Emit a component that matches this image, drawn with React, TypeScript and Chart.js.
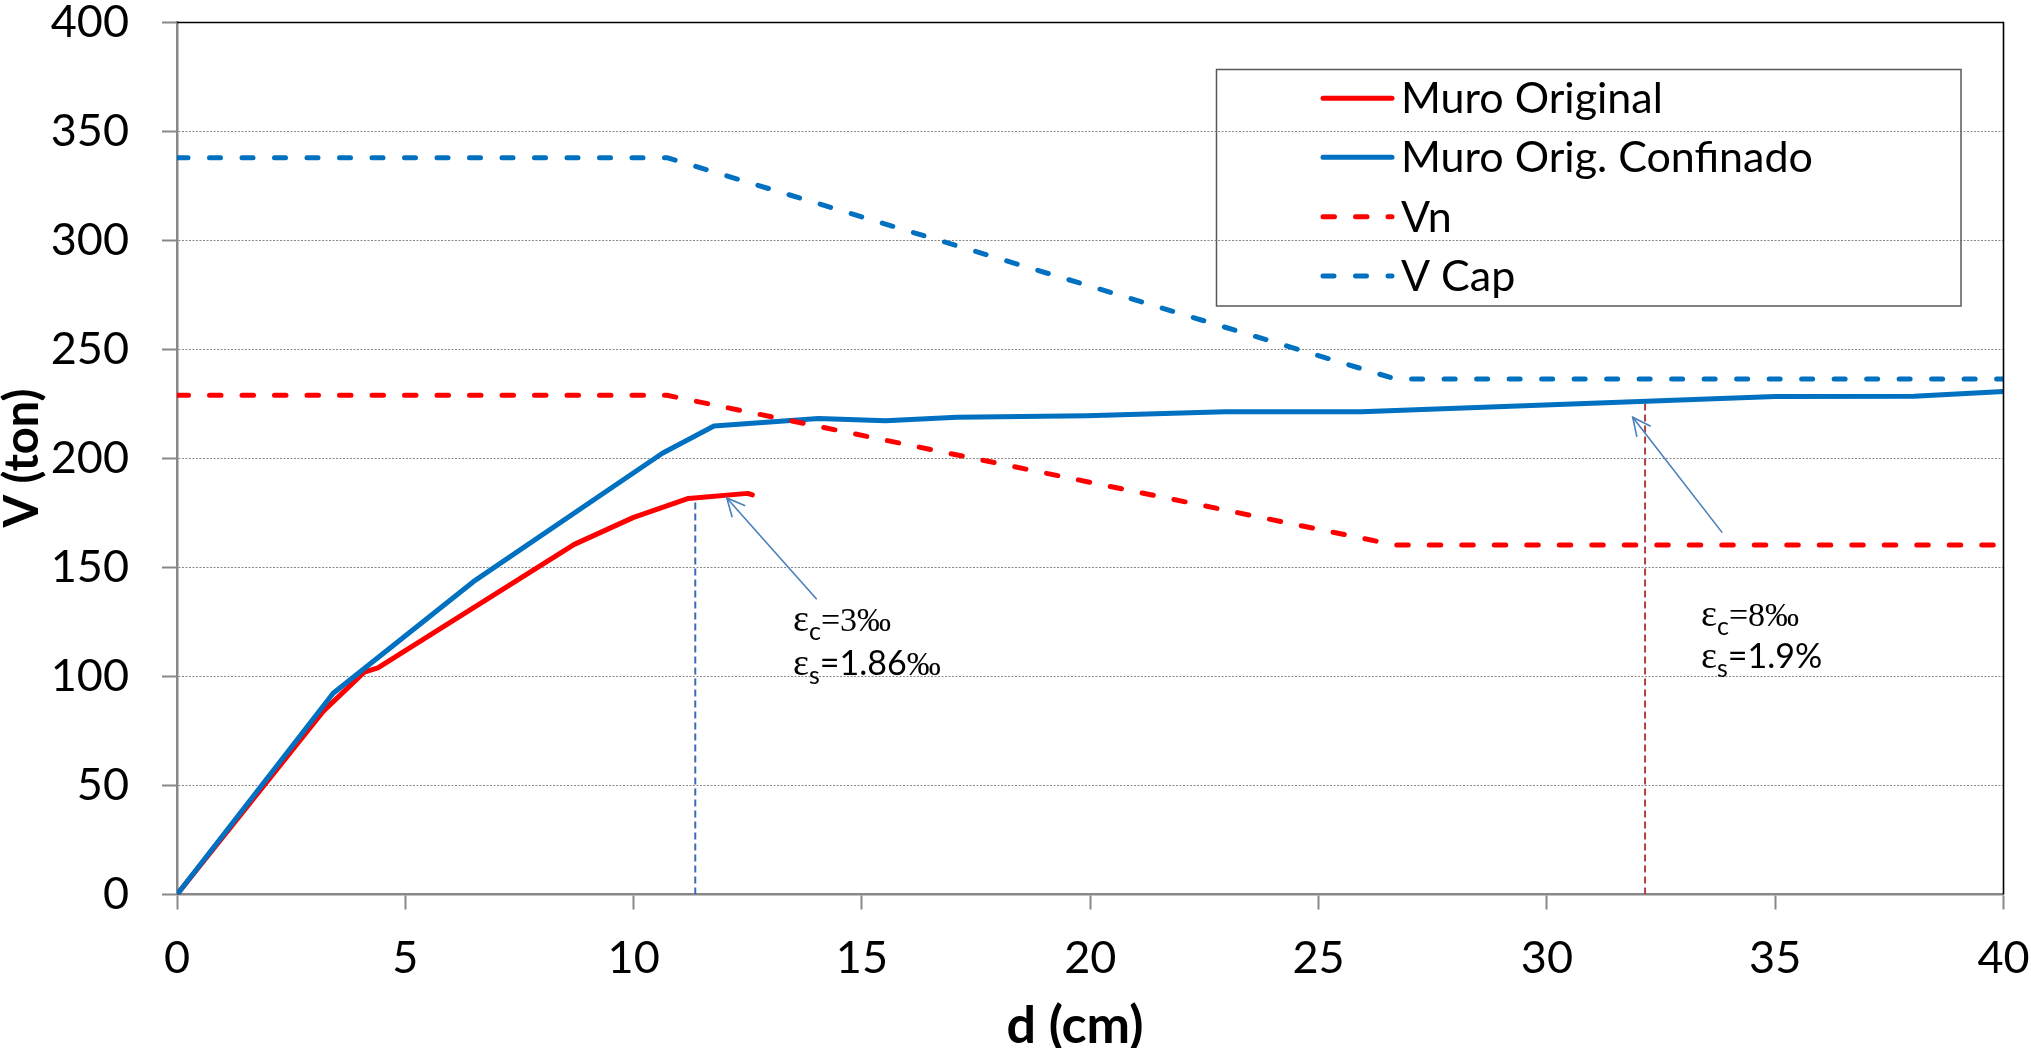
import React, { useEffect, useRef } from "react";
import { Chart, registerables } from "chart.js";

Chart.register(...registerables);

// ---- data ----
const muroOrigD = [0, 3.2, 4.1, 4.4, 8.7, 10.0, 11.2, 12.5, 12.6];
const muroOrigV = [0, 84, 102, 104, 160.6, 173, 181.7, 184, 183.3];

const confD = [0, 3.42, 6.49, 10.63, 11.76, 14.05, 15.52, 17.08, 19.92, 22.95, 25.94, 35.0, 38.04, 40];
const confV = [0, 92.3, 143.5, 202.4, 214.9, 218.4, 217.3, 218.9, 219.6, 221.5, 221.5, 228.4, 228.5, 230.7];

const vnD = [0, 10.73, 26.68, 40];
const vnV = [229, 229, 160.3, 160.3];

const vcapD = [0, 10.73, 26.68, 40];
const vcapV = [338, 338, 236.5, 236.5];

const seriesLabels = ["Muro Original", "Muro Orig. Confinado", "Vn", "V Cap"];

// marker (vertical drop lines) and arrows, in data units
const markLeftD = [11.35, 11.35];
const markLeftV = [0, 182];
const markRightD = [32.15, 32.15];
const markRightV = [0, 226];
const arrowLeft = { fromD: 14.01, fromV: 135.4, toD: 12.04, toV: 181.9 };
const arrowRight = { fromD: 33.84, fromV: 166, toD: 31.88, toV: 218.9 };

const xMin = 0, xMax = 40, xStep = 5;
const yMin = 0, yMax = 400, yStep = 50;

const xTitle = "d (cm)";
const yTitle = "V (ton)";

const zip = (xs: number[], ys: number[]) => xs.map((x, i) => ({ x, y: ys[i] }));

const SERIF = '"Liberation Serif", "DejaVu Serif", serif';
const SANS = 'Lato, "Liberation Sans", sans-serif';

type Seg = { t: string; font: string; sub?: boolean };

function drawSegs(ctx: CanvasRenderingContext2D, segs: Seg[], x: number, y: number) {
  let cx = x;
  for (const s of segs) {
    ctx.font = s.font;
    ctx.fillText(s.t, cx, y + (s.sub ? 9 : 0));
    cx += ctx.measureText(s.t).width;
  }
}

const overlayPlugin = {
  id: "overlay",
  afterDraw(chart: any) {
    const ctx: CanvasRenderingContext2D = chart.ctx;
    const { left, right, top, bottom } = chart.chartArea;
    const xs = chart.scales.x;
    const ys = chart.scales.y;
    ctx.save();

    // top and right frame
    ctx.strokeStyle = "#000000";
    ctx.lineWidth = 1.6;
    ctx.beginPath();
    ctx.moveTo(left, top);
    ctx.lineTo(right, top);
    ctx.lineTo(right, bottom);
    ctx.stroke();

    // arrows
    const drawArrow = (a: any) => {
      const x1 = xs.getPixelForValue(a.fromD), y1 = ys.getPixelForValue(a.fromV);
      const x2 = xs.getPixelForValue(a.toD), y2 = ys.getPixelForValue(a.toV);
      ctx.strokeStyle = "#4A7EBB";
      ctx.lineWidth = 1.6;
      ctx.setLineDash([]);
      ctx.beginPath();
      ctx.moveTo(x1, y1);
      ctx.lineTo(x2, y2);
      ctx.stroke();
      const ang = Math.atan2(y2 - y1, x2 - x1);
      const L = 20, w = 0.45;
      ctx.beginPath();
      ctx.moveTo(x2 - L * Math.cos(ang - w), y2 - L * Math.sin(ang - w));
      ctx.lineTo(x2, y2);
      ctx.lineTo(x2 - L * Math.cos(ang + w), y2 - L * Math.sin(ang + w));
      ctx.stroke();
    };
    drawArrow(arrowLeft);
    drawArrow(arrowRight);

    // annotation texts
    ctx.fillStyle = "#000000";
    ctx.textBaseline = "alphabetic";
    ctx.textAlign = "left";
    const eps = `38px ${SERIF}`;
    const sub = `25px ${SANS}`;
    const ser = `34px ${SERIF}`;
    const sans = `34px ${SANS}`;
    drawSegs(ctx, [{ t: "ε", font: eps }, { t: "c", font: sub, sub: true }, { t: "=3‰", font: ser }], 793, 631);
    drawSegs(ctx, [{ t: "ε", font: eps }, { t: "s", font: sub, sub: true }, { t: "=1.86", font: sans }, { t: "‰", font: ser }], 793, 675);
    drawSegs(ctx, [{ t: "ε", font: eps }, { t: "c", font: sub, sub: true }, { t: "=8‰", font: ser }], 1701, 626);
    drawSegs(ctx, [{ t: "ε", font: eps }, { t: "s", font: sub, sub: true }, { t: "=1.9%", font: sans }], 1701, 668);

    // legend box
    const lx = 1216.5, ly = 69.5, lw = 1961 - 1216.5, lh = 306 - 69.5;
    ctx.strokeStyle = "#595959";
    ctx.lineWidth = 1.5;
    ctx.strokeRect(lx, ly, lw, lh);
    const rows = [98.3, 157.3, 216.7, 276];
    chart.data.datasets.slice(0, 4).forEach((ds: any, i: number) => {
      const yy = rows[i];
      ctx.save();
      ctx.strokeStyle = ds.borderColor;
      ctx.lineWidth = ds.borderWidth;
      ctx.lineCap = "round";
      ctx.setLineDash(ds.borderDash || []);
      ctx.beginPath();
      ctx.moveTo(1323, yy);
      ctx.lineTo(1392, yy);
      ctx.stroke();
      ctx.restore();
      ctx.fillStyle = "#000000";
      ctx.font = `43px ${SANS}`;
      ctx.textBaseline = "alphabetic";
      ctx.fillText(ds.label, 1401, yy + 15);
    });

    // axis titles
    ctx.fillStyle = "#000000";
    ctx.textAlign = "center";
    ctx.textBaseline = "alphabetic";
    ctx.font = `bold 52px ${SANS}`;
    ctx.fillText(xTitle, 1075, 1043);
    ctx.font = `bold 47px ${SANS}`;
    ctx.save();
    ctx.translate(38, 458);
    ctx.rotate(-Math.PI / 2);
    ctx.fillText(yTitle, 0, 0);
    ctx.restore();

    ctx.restore();
  },
};

export default function App() {
  const ref = useRef<HTMLCanvasElement | null>(null);

  useEffect(() => {
    document.body.style.margin = "0";
    document.body.style.overflow = "hidden";
    const canvas = ref.current!;
    const solid = (label: string, d: number[], v: number[], color: string, order: number) => ({
      label,
      data: zip(d, v),
      borderColor: color,
      backgroundColor: color,
      borderWidth: 5,
      borderCapStyle: "round",
      borderJoinStyle: "round",
      showLine: true,
      pointRadius: 0,
      pointHoverRadius: 0,
      fill: false,
      tension: 0,
      order,
    });
    const chart = new Chart(canvas, {
      type: "scatter",
      data: {
        datasets: [
          solid(seriesLabels[0], muroOrigD, muroOrigV, "#FF0000", 4),
          solid(seriesLabels[1], confD, confV, "#0070C0", 3),
          { ...solid(seriesLabels[2], vnD, vnV, "#FF0000", 2), borderDash: [11.5, 21] },
          { ...solid(seriesLabels[3], vcapD, vcapV, "#0070C0", 1), borderDash: [11, 21.5] },
          {
            ...solid("markLeft", markLeftD, markLeftV, "#3B6DB3", 6),
            borderWidth: 2,
            borderCapStyle: "butt",
            borderDash: [7, 4],
          },
          {
            ...solid("markRight", markRightD, markRightV, "#B0403F", 5),
            borderWidth: 2,
            borderCapStyle: "butt",
            borderDash: [7, 4],
          },
        ] as any,
      },
      options: {
        animation: false,
        responsive: false,
        maintainAspectRatio: false,
        events: [],
        layout: { padding: { left: 0, right: 27.5, top: 22.5, bottom: 0 } },
        plugins: {
          legend: { display: false },
          tooltip: { enabled: false },
          title: { display: false },
        },
        scales: {
          x: {
            type: "linear",
            min: xMin,
            max: xMax,
            afterFit: (s: any) => {
              s.height = 153.5;
              s.paddingLeft = 0;
              s.paddingRight = 0;
              s.paddingTop = 0;
              s.paddingBottom = 0;
            },
            ticks: {
              stepSize: xStep,
              color: "#000000",
              font: { family: SANS, size: 45 },
              padding: 22,
              maxRotation: 0,
            },
            grid: {
              display: true,
              drawOnChartArea: false,
              drawTicks: true,
              tickLength: 15,
              tickWidth: 2,
              tickColor: "#888888",
            },
            border: { display: true, color: "#888888", width: 2.5 },
          },
          y: {
            type: "linear",
            min: yMin,
            max: yMax,
            afterFit: (s: any) => {
              s.width = 177;
              s.paddingLeft = 0;
              s.paddingRight = 0;
              s.paddingTop = 0;
              s.paddingBottom = 0;
            },
            ticks: {
              stepSize: yStep,
              color: "#000000",
              font: { family: SANS, size: 45 },
              padding: 33,
            },
            grid: {
              display: true,
              drawOnChartArea: true,
              drawTicks: true,
              tickLength: 15,
              tickWidth: 2,
              tickColor: "#888888",
              color: "#8A8A8A",
              lineWidth: 1,
            },
            border: { display: true, color: "#888888", width: 2.5, dash: [2, 1.5] },
          },
        },
      } as any,
      plugins: [overlayPlugin],
    });
    return () => chart.destroy();
  }, []);

  return (
    <div style={{ width: 2031, height: 1048, position: "relative", background: "#ffffff" }}>
      <canvas ref={ref} width={2031} height={1048} style={{ display: "block", width: 2031, height: 1048 }} />
    </div>
  );
}
